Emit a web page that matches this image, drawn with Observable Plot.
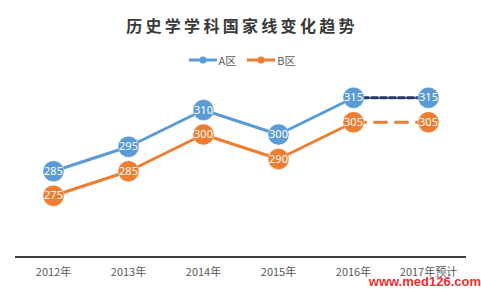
<!DOCTYPE html>
<html>
<head>
<meta charset="utf-8">
<script src="https://cdn.jsdelivr.net/npm/d3@7"></script>
<script src="https://cdn.jsdelivr.net/npm/@observablehq/plot@0.6"></script>
<style>
  html, body { margin: 0; padding: 0; background: #fff; }
  #wrap { position: relative; width: 481px; height: 289px; overflow: hidden; font-family: "Noto Sans CJK SC", "Noto Sans", sans-serif; }
  #title { height: 48px; line-height: 50px; text-align: center; font-size: 16px; font-weight: bold; color: #3a3a3a; letter-spacing: 3.3px; padding-left: 3px; box-sizing: border-box; }
  #legend { height: 24px; display: flex; justify-content: center; align-items: center; font-size: 11px; color: #595959; gap: 10px; padding-left: 2px; }
  #legend .item { display: flex; align-items: center; gap: 1px; }
  #mark { position: absolute; right: 0; bottom: 0; font-family: "Liberation Sans", Arial, sans-serif; font-weight: bold; font-size: 13px; line-height: 15px; color: #e8312f; }
</style>
</head>
<body>
<div id="wrap">
  <div id="title">历史学学科国家线变化趋势</div>
  <div id="legend"></div>
  <div id="chart"></div>
  <div id="mark">www.med126.com</div>
</div>
<script>
const years = ["2012年", "2013年", "2014年", "2015年", "2016年", "2017年预计"];
const aValues = [285, 295, 310, 300, 315, 315];
const bValues = [275, 285, 300, 290, 305, 305];
const seriesNames = ["A区", "B区"];
const seriesColors = ["#5B9BD5", "#ED7D31"];
const dashColors = ["#203864", "#ED7D31"];
const dashPatterns = ["6,3", "12,9"];

const rows = [];
[aValues, bValues].forEach((vals, s) => {
  vals.forEach((v, i) => rows.push({series: seriesNames[s], year: years[i], value: v, idx: i, s}));
});
const solid = rows.filter(d => d.idx <= 4);
const dashed = rows.filter(d => d.idx >= 4);

// legend
const legend = document.getElementById("legend");
seriesNames.forEach((name, i) => {
  const item = document.createElement("div");
  item.className = "item";
  item.innerHTML = `<svg width="30" height="10"><line x1="1" y1="5" x2="29" y2="5" stroke="${seriesColors[i]}" stroke-width="3"/><circle cx="15" cy="5" r="3.5" fill="${seriesColors[i]}"/></svg><span>${name}</span>`;
  legend.appendChild(item);
});

const marks = [
  Plot.ruleY([250], {stroke: "#404040", strokeWidth: 2}),
];
seriesNames.forEach((name, s) => {
  marks.push(Plot.line(solid.filter(d => d.s === s), {x: "year", y: "value", stroke: seriesColors[s], strokeWidth: 3}));
  marks.push(Plot.line(dashed.filter(d => d.s === s), {x: "year", y: "value", stroke: dashColors[s], strokeWidth: 3, strokeDasharray: dashPatterns[s]}));
});
seriesNames.forEach((name, s) => {
  const data = rows.filter(d => d.s === s);
  marks.push(Plot.dot(data, {x: "year", y: "value", r: 10.5, fill: seriesColors[s], stroke: "#fff", strokeOpacity: 0.35, strokeWidth: 1}));
  marks.push(Plot.text(data, {x: "year", y: "value", text: d => String(d.value), fill: "#fff", fontSize: 11, fontFamily: "'Noto Sans', sans-serif"}));
});

const chart = Plot.plot({
  width: 481,
  height: 217,
  marginTop: 13,
  marginBottom: 32.5,
  marginLeft: 15,
  marginRight: 15,
  style: {fontFamily: "'Noto Sans CJK SC', 'Noto Sans', sans-serif", fontSize: "11px", color: "#595959", background: "transparent"},
  x: {type: "point", domain: years, padding: 0.5, tickSize: 0, tickPadding: 11, label: null},
  y: {domain: [250, 320], axis: null},
  marks
});
document.getElementById("chart").appendChild(chart);
</script>
</body>
</html>
